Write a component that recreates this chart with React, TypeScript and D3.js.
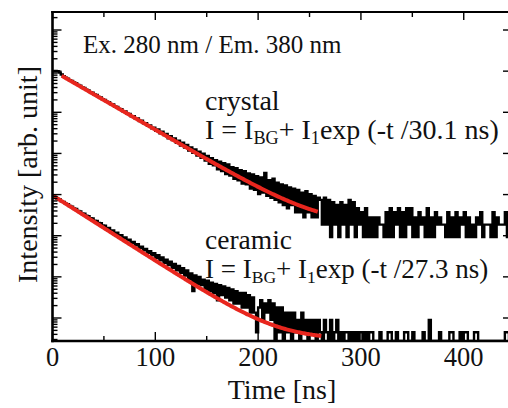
import React, { useEffect, useRef } from 'react';
import * as d3 from 'd3';

// time-resolved PL histograms, 2 ns bins starting at t = 0
const binNs = 2;
const crystalCounts = [
  10600, 10900, 10700, 9900, 8900, 8100, 7420, 7080, 6490, 6220,
  5690, 5450, 4980, 4770, 4350, 4190, 3810, 3660, 3330, 3210,
  2920, 2820, 2550, 2460, 2230, 2160, 1950, 1900, 1700, 1670,
  1490, 1460, 1300, 1280, 1130, 1120, 990, 985, 865, 865,
  758, 760, 660, 668, 578, 585, 505, 515, 440, 452,
  380, 410, 330, 362, 300, 318, 252, 284, 226, 250,
  196, 218, 168, 196, 150, 172, 126, 150, 112, 134,
  96, 118, 84, 106, 72, 94, 60, 82, 55, 74,
  44, 68, 40, 62, 34, 58, 31, 50, 26, 47,
  24, 42, 20, 40, 19, 35, 15, 33, 14, 30,
  11, 28, 12, 36, 10, 24, 9, 26, 8, 21,
  7, 19, 6, 18, 5, 16, 6, 15, 4, 14,
  4, 12, 3, 13, 4, 11, 3, 10, 3, 9,
  8, 2, 9, 2, 8, 1, 7, 2, 6, 1,
  7, 2, 6, 1, 8, 2, 7, 1, 5, 2,
  4, 1, 5, 1, 3, 1, 3, 1, 3, 2,
  2, 1, 4, 1, 5, 1, 4, 2, 5, 1,
  4, 1, 5, 2, 5, 1, 3, 1, 4, 2,
  3, 1, 5, 1, 3, 1, 4, 2, 3, 2,
  2, 1, 4, 1, 3, 1, 4, 1, 3, 2,
  4, 1, 3, 1, 2, 1, 3, 2, 4, 1,
  2, 2, 2, 1, 4, 1, 3, 2, 2, 2,
  4, 1, 3,
];
const ceramicCounts = [
  2020, 1930, 1750, 1690, 1530, 1475, 1340, 1290, 1170, 1130,
  1020, 990, 890, 868, 778, 760, 678, 665, 592, 582,
  518, 510, 452, 447, 395, 392, 344, 344, 300, 300,
  262, 262, 228, 230, 198, 202, 172, 178, 150, 157,
  130, 138, 113, 121, 98, 106, 85, 94, 74, 83,
  64, 75, 56, 66, 49, 58, 43, 52, 37, 46,
  32, 41, 28, 36, 24, 32, 20, 27, 10, 24,
  15, 22, 14, 19, 11, 18, 10, 16, 9, 15,
  6, 14, 8, 13, 7, 12, 6, 11, 5, 10,
  5, 9, 4, 9, 4, 8, 3, 7, 3, 1,
  4, 6, 2, 5, 3, 6, 2, 5, 0, 4,
  1, 4, 0, 3, 1, 3, 0, 3, 1, 2,
  0, 3, 1, 2, 0, 2, 1, 2, 0, 2,
  1, 0, 2, 1, 0, 2, 0, 1, 2, 0,
  1, 0, 1, 1, 0, 1, 0, 1, 0, 1,
  1, 0, 1, 0, 1, 1, 0, 0, 0, 1,
  0, 0, 0, 1, 1, 0, 0, 1, 0, 0,
  0, 1, 1, 0, 0, 1, 0, 0, 0, 0,
  1, 0, 0, 2, 0, 0, 0, 0, 1, 0,
  0, 0, 0, 1, 1, 0, 0, 0, 1, 0,
  1, 1, 0, 0, 0, 1, 1, 0, 0, 0,
  0, 0, 0, 0, 0, 0, 0, 0, 0, 0,
  1, 1, 0,
];
// vertical offsets (arb. unit per count) so both curves fit on one plot
const crystalScale = 93;
const ceramicScale = 0.45;

// fit I = I_BG + I_1 exp(-t / tau)
const fitTau = [30.1, 27.3];
const fitI1 = [1.04e6, 960];
const fitIBG = [186, 0.3];
const fitFrom = [9, 0.5];
const fitTo = [258, 262];

const xMajor = [0, 100, 200, 300, 400];
const xMinor = [50, 150, 250, 350];

const FONT = "'Liberation Serif', 'Times New Roman', serif";
const INK = '#111';

export default function App() {
  const ref = useRef<SVGSVGElement>(null);

  useEffect(() => {
    const width = 508, height = 408;
    const left = 52.5, right = 510, top = 12, bottom = 341;

    const svg = d3.select(ref.current);
    svg.selectAll('*').remove();
    svg.attr('width', width).attr('height', height);

    const x = d3.scaleLinear().domain([0, 445]).range([left, right]);
    const y = d3.scaleLog().domain([0.276, 2.74e7]).range([bottom, top]);
    const yMin = y.domain()[0];

    svg.append('defs').append('clipPath').attr('id', 'plot')
      .append('rect')
      .attr('x', left).attr('y', top - 1)
      .attr('width', right - left).attr('height', bottom - top + 1);

    const line = d3.line<[number, number]>()
      .x(d => x(d[0]))
      .y(d => y(Math.max(d[1], yMin)));

    const data = svg.append('g').attr('clip-path', 'url(#plot)');

    [
      [crystalCounts, crystalScale],
      [ceramicCounts, ceramicScale],
    ].forEach(([counts, scale]: any) => {
      const pts = counts.map((c: number, i: number) => [i * binNs, c * scale]);
      data.append('path')
        .attr('fill', 'none')
        .attr('stroke', '#000')
        .attr('stroke-width', 2.4)
        .attr('d', line.curve(d3.curveStepAfter)(pts));
    });

    fitTau.forEach((tau, i) => {
      const pts = d3.range(fitFrom[i], fitTo[i] + 0.01, 1)
        .map(t => [t, fitIBG[i] + fitI1[i] * Math.exp(-t / tau)] as [number, number]);
      data.append('path')
        .attr('fill', 'none')
        .attr('stroke', '#e8261e')
        .attr('stroke-width', 4)
        .attr('d', line.curve(d3.curveLinear)(pts));
    });

    // frame
    const frame = svg.append('g').attr('stroke', '#000').attr('fill', 'none');
    frame.append('line').attr('x1', left).attr('x2', left).attr('y1', top - 1).attr('y2', bottom + 1.2).attr('stroke-width', 2.6);
    frame.append('line').attr('x1', left - 1.3).attr('x2', right).attr('y1', bottom).attr('y2', bottom).attr('stroke-width', 2.6);
    frame.append('line').attr('x1', left - 1.3).attr('x2', right).attr('y1', top).attr('y2', top).attr('stroke-width', 2);
    frame.append('line').attr('x1', right).attr('x2', right).attr('y1', top).attr('y2', bottom).attr('stroke-width', 2);

    const ticks = svg.append('g').attr('stroke', '#000').attr('stroke-width', 1.4);
    xMajor.forEach(v => {
      ticks.append('line').attr('x1', x(v)).attr('x2', x(v)).attr('y1', bottom).attr('y2', bottom - 9);
      ticks.append('line').attr('x1', x(v)).attr('x2', x(v)).attr('y1', top).attr('y2', top + 8);
    });
    xMinor.forEach(v => {
      ticks.append('line').attr('x1', x(v)).attr('x2', x(v)).attr('y1', bottom).attr('y2', bottom - 5);
      ticks.append('line').attr('x1', x(v)).attr('x2', x(v)).attr('y1', top).attr('y2', top + 5);
    });
    y.ticks().forEach(v => {
      const major = Math.abs(Math.log10(v) - Math.round(Math.log10(v))) < 1e-6;
      const yy = y(v);
      ticks.append('line').attr('x1', left).attr('x2', left + (major ? 9 : 5)).attr('y1', yy).attr('y2', yy);
      if (major) {
        ticks.append('line').attr('x1', right).attr('x2', right - 7).attr('y1', yy).attr('y2', yy);
      }
    });

    const txt = svg.append('g').attr('font-family', FONT).attr('fill', INK);

    xMajor.forEach(v => {
      txt.append('text').attr('x', x(v)).attr('y', 366)
        .attr('text-anchor', 'middle').attr('font-size', 26.5).text(v);
    });

    txt.append('text').attr('x', 282).attr('y', 399)
      .attr('text-anchor', 'middle').attr('font-size', 28).text('Time [ns]');
    txt.append('text')
      .attr('transform', 'translate(37,174.5) rotate(-90)')
      .attr('text-anchor', 'middle').attr('font-size', 28).text('Intensity [arb. unit]');

    txt.append('text').attr('x', 83).attr('y', 53).attr('font-size', 25)
      .text('Ex. 280 nm / Em. 380 nm');

    const equation = (yy: number, size: number, tau: number) => {
      const t = txt.append('text').attr('x', 205).attr('y', yy)
        .attr('font-size', size).style('white-space', 'pre');
      t.append('tspan').text('I = I');
      t.append('tspan').attr('font-size', size * 0.65).attr('dy', 5).text('BG');
      t.append('tspan').attr('dy', -5).text('+ I');
      t.append('tspan').attr('font-size', size * 0.65).attr('dy', 5).text('1');
      t.append('tspan').attr('dy', -5).text(`exp (-t /${tau} ns)`);
    };

    txt.append('text').attr('x', 205).attr('y', 110).attr('font-size', 28).text('crystal');
    equation(138.5, 28, fitTau[0]);
    txt.append('text').attr('x', 205).attr('y', 249).attr('font-size', 27.5).text('ceramic');
    equation(277.5, 27, fitTau[1]);
  }, []);

  return (
    <svg ref={ref} xmlns="http://www.w3.org/2000/svg"
      style={{ position: 'absolute', left: 0, top: 0, background: '#fff' }} />
  );
}
